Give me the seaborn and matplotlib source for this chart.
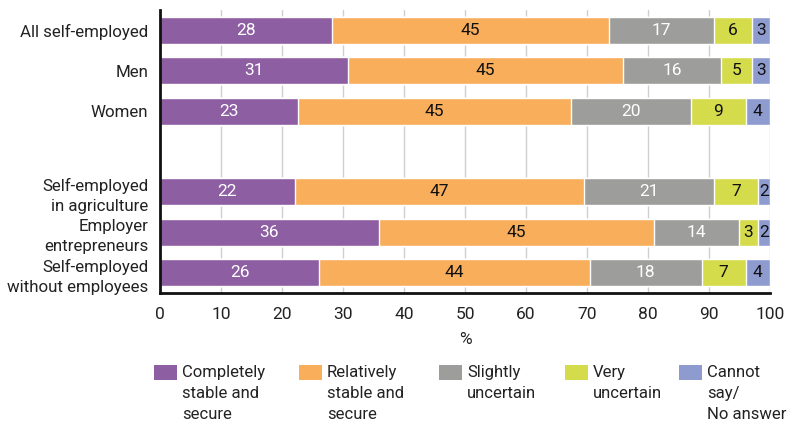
import matplotlib
matplotlib.use("Agg")
import matplotlib.pyplot as plt
from matplotlib.patches import Patch, Rectangle
from matplotlib.legend_handler import HandlerPatch
import seaborn as sns
import pandas as pd
import numpy as np

categories = ["All self-employed", "Men", "Women",
              "Self-employed\nin agriculture", "Employer\nentrepreneurs",
              "Self-employed\nwithout employees"]
series_names = ["Completely\nstable and\nsecure", "Relatively\nstable and\nsecure",
                "Slightly\nuncertain", "Very\nuncertain", "Cannot\nsay/\nNo answer"]
completely = [28.2, 30.9, 22.6, 22.1, 35.9, 26.1]
relatively = [45.4, 45.0, 44.7, 47.4, 45.1, 44.4]
slightly = [17.2, 16.1, 19.7, 21.3, 13.9, 18.3]
very = [6.2, 5.0, 9.0, 7.2, 3.1, 7.2]
cannot = [3.0, 3.0, 4.0, 2.0, 2.0, 4.0]
labels = [[28, 31, 23, 22, 36, 26],
          [45, 45, 45, 47, 45, 44],
          [17, 16, 20, 21, 14, 18],
          [6, 5, 9, 7, 3, 7],
          [3, 3, 4, 2, 2, 4]]
x_ticks = [0, 10, 20, 30, 40, 50, 60, 70, 80, 90, 100]

colors = ["#8E5EA2", "#F8AE5B", "#9D9D9C", "#D5DC4C", "#8E9BCF"]
label_colors = ["white", "#111111", "white", "#111111", "#111111"]

sns.set_theme(style="white")
plt.rcParams["font.family"] = ["Roboto", "DejaVu Sans"]

FS = 12.5
YFS = 12.2
LFS = 12.0
LS = 1.5

spacer = " "
order = categories[:3] + [spacer] + categories[3:]

series = [completely, relatively, slightly, very, cannot]
arr = np.array(series)
cum = np.cumsum(arr, axis=0)

fig = plt.figure(figsize=(7.93, 4.25), dpi=100)
ax = fig.add_axes([160/793, 1-293/425, 610/793, 283/425])

ax.set_axisbelow(True)
for xv in x_ticks:
    ax.axvline(xv, color="#CFCFCF", lw=1.0, zorder=0)

for i in range(len(series) - 1, -1, -1):
    df = pd.DataFrame({"cat": categories, "end": cum[i]})
    sns.barplot(data=df, y="cat", x="end", order=order, orient="h",
                color=colors[i], saturation=1, width=0.67,
                edgecolor="white", linewidth=1.0, ax=ax, zorder=2)

# value labels
ypos = {c: order.index(c) for c in categories}
for i in range(len(series)):
    for j, c in enumerate(categories):
        start = cum[i][j] - arr[i][j]
        ax.text(start + arr[i][j] / 2, ypos[c], str(labels[i][j]),
                ha="center", va="center", fontsize=FS,
                color=label_colors[i], zorder=5)

ax.set_xlim(0, 100)
ax.set_ylim(6.5, -0.5)
ax.set_xticks(x_ticks)
ax.set_xticklabels([str(v) for v in x_ticks])
ax.set_xlabel("%", fontsize=FS, color="#222222", labelpad=7)
ax.set_ylabel("")
ax.tick_params(axis="x", length=0, labelsize=FS, colors="#222222", pad=10)
ax.tick_params(axis="y", length=0, labelsize=YFS, colors="#222222", pad=8.5)
for lab in ax.get_yticklabels():
    lab.set_linespacing(1.4)

sns.despine(ax=ax, top=True, right=True)
for s in ("left", "bottom"):
    ax.spines[s].set_color("#111111")
    ax.spines[s].set_linewidth(2)
    ax.spines[s].set_zorder(6)


def make_top_handler(nlines):
    line_h = 0.86 * LFS * LS

    def patch_func(legend, orig_handle, xdescent, ydescent, width, height, fontsize):
        shift = (nlines - 1) / 2 * line_h
        return Rectangle((-xdescent, -ydescent + shift), width, height)
    return HandlerPatch(patch_func=patch_func)


# legend entries placed individually
legend_x = [154, 299, 439, 565, 679]
for k in range(len(series_names)):
    h = Patch(facecolor=colors[k], edgecolor="none")
    nl = series_names[k].count("\n") + 1
    leg = fig.legend([h], [series_names[k]], loc="upper left",
                     bbox_to_anchor=(legend_x[k] / 793, 1 - 365 / 425),
                     frameon=False, fontsize=LFS, handlelength=1.38,
                     handleheight=0.96, handletextpad=0.3,
                     borderpad=0, borderaxespad=0,
                     handler_map={h: make_top_handler(nl)})
    for t in leg.get_texts():
        t.set_linespacing(LS)
        t.set_color("#222222")

fig.savefig("out.png", dpi=100)
